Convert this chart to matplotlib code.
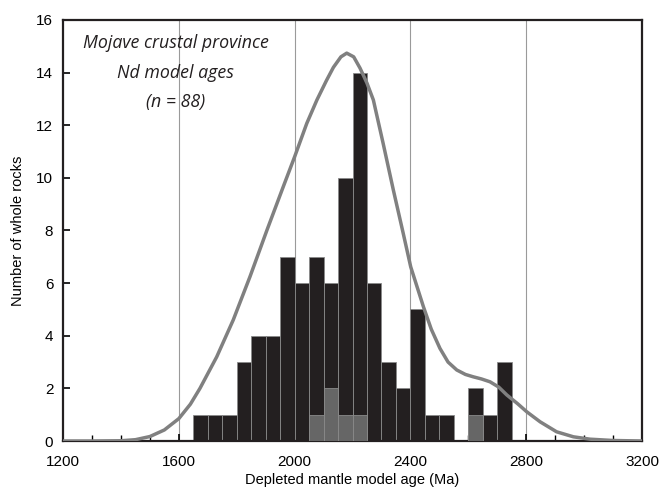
import numpy as np
import matplotlib.pyplot as plt
from matplotlib.ticker import MultipleLocator

# Histogram of Nd model ages, 50 Ma bins starting at 1650 Ma
bin_left = [1650, 1700, 1750, 1800, 1850, 1900, 1950, 2000, 2050, 2100, 2150,
            2200, 2250, 2300, 2350, 2400, 2450, 2500, 2550, 2600, 2650, 2700]
all_counts = [1, 1, 1, 3, 4, 4, 7, 6, 7, 6, 10,
              14, 6, 3, 2, 5, 1, 1, 0, 2, 1, 3]
grey_counts = [0, 0, 0, 0, 0, 0, 0, 0, 1, 2, 1,
               1, 0, 0, 0, 0, 0, 0, 0, 1, 0, 0]
bin_width = 50

# Probability curve
curve_age = [1200, 1300, 1400, 1450, 1500, 1550, 1600, 1640, 1673, 1731, 1788,
             1846, 1904, 1961, 2000, 2042, 2077, 2110, 2134, 2160, 2180, 2204,
             2226, 2250, 2272, 2306, 2341, 2375, 2401, 2445, 2472, 2502, 2530,
             2560, 2590, 2617, 2645, 2675, 2705, 2733, 2770, 2802, 2848, 2905,
             2963, 3020, 3100, 3200]
curve_val = [0, 0, 0.01, 0.05, 0.17, 0.42, 0.85, 1.4, 2.0, 3.2, 4.6,
             6.25, 8.0, 9.67, 10.8, 12.07, 12.96, 13.7, 14.2, 14.6, 14.74, 14.6,
             14.17, 13.6, 12.96, 11.3, 9.54, 7.9, 6.62, 5.1, 4.25, 3.52, 3.0,
             2.7, 2.53, 2.44, 2.36, 2.25, 2.05, 1.75, 1.42, 1.11, 0.73, 0.35,
             0.16, 0.07, 0.02, 0]

plt.rcParams['font.family'] = ['Liberation Sans', 'DejaVu Sans']

fig = plt.figure(figsize=(6.66, 4.91), dpi=100)
ax = fig.add_axes([0.0946, 0.1018, 0.8694, 0.8575])

# vertical grid lines
for g in [1600, 2000, 2400, 2800]:
    ax.axvline(g, color="#9a9a9a", linewidth=0.8, zorder=0)

ax.bar(bin_left, all_counts, width=bin_width, align="edge",
       color="#231f20", edgecolor="#8a8a8a", linewidth=0.6, zorder=2)
ax.bar(bin_left, grey_counts, width=bin_width, align="edge",
       color="#666666", edgecolor="#8a8a8a", linewidth=0.6, zorder=3)

ax.plot(curve_age, curve_val, color="#808080", linewidth=2.5, zorder=4,
        solid_capstyle="round", solid_joinstyle="round")

ax.set_xlim(1200, 3200)
ax.set_ylim(0, 16)
ax.xaxis.set_major_locator(MultipleLocator(400))
ax.xaxis.set_minor_locator(MultipleLocator(100))
ax.yaxis.set_major_locator(MultipleLocator(2))
ax.tick_params(axis="both", which="major", direction="in", length=5,
               width=1.2, labelsize=11, top=False, right=False)
ax.tick_params(axis="x", which="minor", direction="in", length=4, width=1)
ax.tick_params(axis="x", pad=10)
ax.tick_params(axis="y", pad=7)

for s in ax.spines.values():
    s.set_linewidth(1.6)
    s.set_color("#231f20")

ax.set_xlabel("Depleted mantle model age (Ma)", fontsize=10.5, labelpad=3)
ax.set_ylabel("Number of whole rocks", fontsize=10.5, labelpad=8)

ax.text(1590, 14.0, "Mojave crustal province\nNd model ages\n(n = 88)",
        ha="center", va="center", style="italic", fontsize=12.8,
        family=["Open Sans", "DejaVu Sans"], linespacing=1.82, color="#231f20")

fig.savefig("out.png", dpi=100)
